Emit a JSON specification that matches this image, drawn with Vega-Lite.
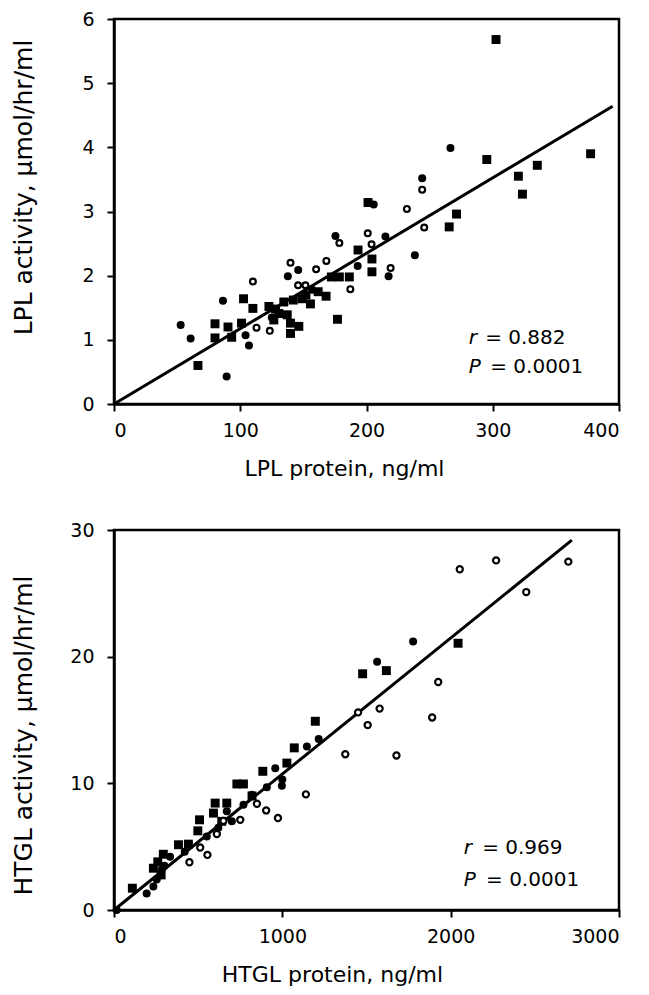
{
  "$schema": "https://vega.github.io/schema/vega-lite/v6.json",
  "padding": {"left": 10, "top": 8, "right": 10, "bottom": 0},
  "spacing": 38,
  "background": "white",
  "config": {
    "view": {"stroke": "black", "strokeWidth": 2.5},
    "axis": {
      "grid": false,
      "domainColor": "black",
      "domainWidth": 2.5,
      "tickColor": "black",
      "tickWidth": 2,
      "tickSize": 7,
      "labelFont": "DejaVu Sans",
      "labelFontSize": 19,
      "labelColor": "black",
      "titleFont": "DejaVu Sans",
      "titleFontWeight": "normal",
      "titleColor": "black"
    },
    "axisX": {"labelPadding": 10, "titleFontSize": 22, "titlePadding": 18},
    "axisY": {"labelPadding": 13, "titleFontSize": 25},
    "text": {"font": "DejaVu Sans", "fontSize": 20, "align": "left", "baseline": "middle", "color": "black"}
  },
  "datasets": {
    "lpl": [
      {"protein": 302.6, "activity": 5.68, "group": "s"},
      {"protein": 377.5, "activity": 3.90, "group": "s"},
      {"protein": 295.3, "activity": 3.81, "group": "s"},
      {"protein": 335.3, "activity": 3.72, "group": "s"},
      {"protein": 320.3, "activity": 3.55, "group": "s"},
      {"protein": 323.5, "activity": 3.27, "group": "s"},
      {"protein": 271.3, "activity": 2.96, "group": "s"},
      {"protein": 265.5, "activity": 2.76, "group": "s"},
      {"protein": 201.2, "activity": 3.14, "group": "s"},
      {"protein": 193.3, "activity": 2.40, "group": "s"},
      {"protein": 204.3, "activity": 2.26, "group": "s"},
      {"protein": 204.3, "activity": 2.06, "group": "s"},
      {"protein": 177.0, "activity": 1.32, "group": "s"},
      {"protein": 186.4, "activity": 1.98, "group": "s"},
      {"protein": 178.5, "activity": 1.98, "group": "s"},
      {"protein": 172.2, "activity": 1.98, "group": "s"},
      {"protein": 168.0, "activity": 1.68, "group": "s"},
      {"protein": 161.7, "activity": 1.75, "group": "s"},
      {"protein": 155.6, "activity": 1.56, "group": "s"},
      {"protein": 149.0, "activity": 1.64, "group": "s"},
      {"protein": 146.4, "activity": 1.21, "group": "s"},
      {"protein": 139.8, "activity": 1.10, "group": "s"},
      {"protein": 139.8, "activity": 1.26, "group": "s"},
      {"protein": 134.5, "activity": 1.59, "group": "s"},
      {"protein": 130.6, "activity": 1.41, "group": "s"},
      {"protein": 126.6, "activity": 1.31, "group": "s"},
      {"protein": 122.7, "activity": 1.52, "group": "s"},
      {"protein": 137.2, "activity": 1.39, "group": "s"},
      {"protein": 142.0, "activity": 1.62, "group": "s"},
      {"protein": 128.0, "activity": 1.48, "group": "s"},
      {"protein": 152.0, "activity": 1.70, "group": "s"},
      {"protein": 110.0, "activity": 1.49, "group": "s"},
      {"protein": 102.6, "activity": 1.64, "group": "s"},
      {"protein": 101.0, "activity": 1.26, "group": "s"},
      {"protein": 93.2, "activity": 1.04, "group": "s"},
      {"protein": 90.3, "activity": 1.20, "group": "s"},
      {"protein": 80.0, "activity": 1.25, "group": "s"},
      {"protein": 80.0, "activity": 1.03, "group": "s"},
      {"protein": 66.5, "activity": 0.60, "group": "s"},
      {"protein": 266.5, "activity": 3.99, "group": "f"},
      {"protein": 244.1, "activity": 3.52, "group": "f"},
      {"protein": 205.7, "activity": 3.11, "group": "f"},
      {"protein": 215.0, "activity": 2.61, "group": "f"},
      {"protein": 175.4, "activity": 2.62, "group": "f"},
      {"protein": 193.0, "activity": 2.15, "group": "f"},
      {"protein": 217.5, "activity": 1.99, "group": "f"},
      {"protein": 238.3, "activity": 2.32, "group": "f"},
      {"protein": 145.9, "activity": 2.09, "group": "f"},
      {"protein": 137.7, "activity": 1.99, "group": "f"},
      {"protein": 86.3, "activity": 1.61, "group": "f"},
      {"protein": 52.8, "activity": 1.23, "group": "f"},
      {"protein": 60.7, "activity": 1.02, "group": "f"},
      {"protein": 89.2, "activity": 0.43, "group": "f"},
      {"protein": 106.9, "activity": 0.91, "group": "f"},
      {"protein": 104.2, "activity": 1.07, "group": "f"},
      {"protein": 157.0, "activity": 1.78, "group": "f"},
      {"protein": 125.0, "activity": 1.35, "group": "f"},
      {"protein": 244.1, "activity": 3.34, "group": "o"},
      {"protein": 232.0, "activity": 3.04, "group": "o"},
      {"protein": 245.7, "activity": 2.75, "group": "o"},
      {"protein": 201.0, "activity": 2.66, "group": "o"},
      {"protein": 204.0, "activity": 2.49, "group": "o"},
      {"protein": 178.5, "activity": 2.51, "group": "o"},
      {"protein": 168.2, "activity": 2.23, "group": "o"},
      {"protein": 160.1, "activity": 2.10, "group": "o"},
      {"protein": 139.8, "activity": 2.20, "group": "o"},
      {"protein": 219.1, "activity": 2.12, "group": "o"},
      {"protein": 187.2, "activity": 1.79, "group": "o"},
      {"protein": 110.0, "activity": 1.91, "group": "o"},
      {"protein": 145.8, "activity": 1.85, "group": "o"},
      {"protein": 151.6, "activity": 1.85, "group": "o"},
      {"protein": 112.9, "activity": 1.19, "group": "o"},
      {"protein": 123.4, "activity": 1.14, "group": "o"}
    ],
    "lplfit": [
      {"protein": 0, "activity": 0},
      {"protein": 395, "activity": 4.64}
    ],
    "htgl": [
      {"protein": 2044, "activity": 21.06, "group": "s"},
      {"protein": 1618, "activity": 18.9, "group": "s"},
      {"protein": 1477, "activity": 18.65, "group": "s"},
      {"protein": 1196, "activity": 14.9, "group": "s"},
      {"protein": 1071, "activity": 12.8, "group": "s"},
      {"protein": 1027, "activity": 11.6, "group": "s"},
      {"protein": 884, "activity": 10.95, "group": "s"},
      {"protein": 730, "activity": 9.95, "group": "s"},
      {"protein": 769, "activity": 9.95, "group": "s"},
      {"protein": 601, "activity": 8.44, "group": "s"},
      {"protein": 670, "activity": 8.44, "group": "s"},
      {"protein": 508, "activity": 7.12, "group": "s"},
      {"protein": 498, "activity": 6.25, "group": "s"},
      {"protein": 591, "activity": 7.65, "group": "s"},
      {"protein": 383, "activity": 5.15, "group": "s"},
      {"protein": 442, "activity": 5.2, "group": "s"},
      {"protein": 293, "activity": 4.4, "group": "s"},
      {"protein": 234, "activity": 3.3, "group": "s"},
      {"protein": 280, "activity": 2.77, "group": "s"},
      {"protein": 109, "activity": 1.72, "group": "s"},
      {"protein": 820, "activity": 9.0, "group": "s"},
      {"protein": 640, "activity": 7.0, "group": "s"},
      {"protein": 260, "activity": 3.8, "group": "s"},
      {"protein": 1777, "activity": 21.2, "group": "f"},
      {"protein": 1563, "activity": 19.6, "group": "f"},
      {"protein": 1216, "activity": 13.5, "group": "f"},
      {"protein": 1146, "activity": 12.9, "group": "f"},
      {"protein": 958, "activity": 11.2, "group": "f"},
      {"protein": 997, "activity": 9.8, "group": "f"},
      {"protein": 908, "activity": 9.7, "group": "f"},
      {"protein": 819, "activity": 9.1, "group": "f"},
      {"protein": 700, "activity": 7.0, "group": "f"},
      {"protein": 670, "activity": 7.8, "group": "f"},
      {"protein": 551, "activity": 5.8, "group": "f"},
      {"protein": 333, "activity": 4.2, "group": "f"},
      {"protein": 284, "activity": 3.2, "group": "f"},
      {"protein": 254, "activity": 2.4, "group": "f"},
      {"protein": 194, "activity": 1.3, "group": "f"},
      {"protein": 16, "activity": 0, "group": "f"},
      {"protein": 234, "activity": 1.85, "group": "f"},
      {"protein": 769, "activity": 8.3, "group": "f"},
      {"protein": 620, "activity": 6.5, "group": "f"},
      {"protein": 420, "activity": 4.6, "group": "f"},
      {"protein": 300, "activity": 3.5, "group": "f"},
      {"protein": 1000, "activity": 10.3, "group": "f"},
      {"protein": 2054, "activity": 26.9, "group": "o"},
      {"protein": 2270, "activity": 27.6, "group": "o"},
      {"protein": 2699, "activity": 27.5, "group": "o"},
      {"protein": 2449, "activity": 25.1, "group": "o"},
      {"protein": 1926, "activity": 18.0, "group": "o"},
      {"protein": 1890, "activity": 15.2, "group": "o"},
      {"protein": 1578, "activity": 15.9, "group": "o"},
      {"protein": 1450, "activity": 15.6, "group": "o"},
      {"protein": 1507, "activity": 14.6, "group": "o"},
      {"protein": 1678, "activity": 12.2, "group": "o"},
      {"protein": 1374, "activity": 12.3, "group": "o"},
      {"protein": 1140, "activity": 9.13, "group": "o"},
      {"protein": 974, "activity": 7.26, "group": "o"},
      {"protein": 904, "activity": 7.86, "group": "o"},
      {"protein": 849, "activity": 8.39, "group": "o"},
      {"protein": 750, "activity": 7.12, "group": "o"},
      {"protein": 555, "activity": 4.35, "group": "o"},
      {"protein": 448, "activity": 3.77, "group": "o"},
      {"protein": 512, "activity": 4.93, "group": "o"},
      {"protein": 611, "activity": 6.0, "group": "o"},
      {"protein": 650, "activity": 7.04, "group": "o"}
    ],
    "htglfit": [
      {"protein": 0, "activity": 0},
      {"protein": 2720, "activity": 29.2}
    ],
    "stats": [
      {"panel": "LPL", "r": "= 0.882", "p": "= 0.0001"},
      {"panel": "HTGL", "r": "= 0.969", "p": "= 0.0001"}
    ]
  },
  "vconcat": [
    {
      "width": 505,
      "height": 385,
      "layer": [
        {"data": {"name": "lplfit"}, "mark": {"type": "line", "color": "black", "strokeWidth": 3},
         "encoding": {
           "x": {"field": "protein", "type": "quantitative", "scale": {"domain": [0, 400], "nice": false},
                 "axis": {"values": [0, 100, 200, 300, 400], "format": "d", "title": "LPL protein, ng/ml", "titleX": 230}},
           "y": {"field": "activity", "type": "quantitative", "scale": {"domain": [0, 6], "nice": false},
                 "axis": {"values": [0, 1, 2, 3, 4, 5, 6], "format": "d", "title": "LPL activity, μmol/hr/ml", "titlePadding": 45, "titleY": 168}}
         }},
        {"data": {"name": "lpl"}, "transform": [{"filter": "datum.group === 's'"}],
         "mark": {"type": "point", "shape": "square", "filled": true, "color": "black", "opacity": 1, "size": 80},
         "encoding": {"x": {"field": "protein", "type": "quantitative"}, "y": {"field": "activity", "type": "quantitative"}}},
        {"data": {"name": "lpl"}, "transform": [{"filter": "datum.group === 'f'"}],
         "mark": {"type": "point", "shape": "circle", "filled": true, "color": "black", "opacity": 1, "size": 64},
         "encoding": {"x": {"field": "protein", "type": "quantitative"}, "y": {"field": "activity", "type": "quantitative"}}},
        {"data": {"name": "lpl"}, "transform": [{"filter": "datum.group === 'o'"}],
         "mark": {"type": "point", "shape": "circle", "filled": true, "fill": "white", "stroke": "black", "strokeWidth": 2.2, "opacity": 1, "size": 34},
         "encoding": {"x": {"field": "protein", "type": "quantitative"}, "y": {"field": "activity", "type": "quantitative"}}},
        {"data": {"name": "stats"}, "transform": [{"filter": "datum.panel === 'LPL'"}],
         "mark": {"type": "text", "fontStyle": "italic"},
         "encoding": {"x": {"datum": 281}, "y": {"datum": 1.03}, "text": {"value": "r"}}},
        {"data": {"name": "stats"}, "transform": [{"filter": "datum.panel === 'LPL'"}],
         "mark": {"type": "text"},
         "encoding": {"x": {"datum": 294}, "y": {"datum": 1.03}, "text": {"field": "r"}}},
        {"data": {"name": "stats"}, "transform": [{"filter": "datum.panel === 'LPL'"}],
         "mark": {"type": "text", "fontStyle": "italic"},
         "encoding": {"x": {"datum": 281}, "y": {"datum": 0.58}, "text": {"value": "P"}}},
        {"data": {"name": "stats"}, "transform": [{"filter": "datum.panel === 'LPL'"}],
         "mark": {"type": "text"},
         "encoding": {"x": {"datum": 298}, "y": {"datum": 0.58}, "text": {"field": "p"}}}
      ]
    },
    {
      "width": 505,
      "height": 380,
      "layer": [
        {"data": {"name": "htglfit"}, "mark": {"type": "line", "color": "black", "strokeWidth": 3},
         "encoding": {
           "x": {"field": "protein", "type": "quantitative", "scale": {"domain": [0, 3000], "nice": false},
                 "axis": {"values": [0, 1000, 2000, 3000], "format": "d", "title": "HTGL protein, ng/ml", "titleX": 218}},
           "y": {"field": "activity", "type": "quantitative", "scale": {"domain": [0, 30], "nice": false},
                 "axis": {"values": [0, 10, 20, 30], "format": "d", "title": "HTGL activity, μmol/hr/ml", "titlePadding": 33, "titleY": 205}}
         }},
        {"data": {"name": "htgl"}, "transform": [{"filter": "datum.group === 's'"}],
         "mark": {"type": "point", "shape": "square", "filled": true, "color": "black", "opacity": 1, "size": 80},
         "encoding": {"x": {"field": "protein", "type": "quantitative"}, "y": {"field": "activity", "type": "quantitative"}}},
        {"data": {"name": "htgl"}, "transform": [{"filter": "datum.group === 'f'"}],
         "mark": {"type": "point", "shape": "circle", "filled": true, "color": "black", "opacity": 1, "size": 64},
         "encoding": {"x": {"field": "protein", "type": "quantitative"}, "y": {"field": "activity", "type": "quantitative"}}},
        {"data": {"name": "htgl"}, "transform": [{"filter": "datum.group === 'o'"}],
         "mark": {"type": "point", "shape": "circle", "filled": true, "fill": "white", "stroke": "black", "strokeWidth": 2.2, "opacity": 1, "size": 38},
         "encoding": {"x": {"field": "protein", "type": "quantitative"}, "y": {"field": "activity", "type": "quantitative"}}},
        {"data": {"name": "stats"}, "transform": [{"filter": "datum.panel === 'HTGL'"}],
         "mark": {"type": "text", "fontStyle": "italic"},
         "encoding": {"x": {"datum": 2078}, "y": {"datum": 4.9}, "text": {"value": "r"}}},
        {"data": {"name": "stats"}, "transform": [{"filter": "datum.panel === 'HTGL'"}],
         "mark": {"type": "text"},
         "encoding": {"x": {"datum": 2187}, "y": {"datum": 4.9}, "text": {"field": "r"}}},
        {"data": {"name": "stats"}, "transform": [{"filter": "datum.panel === 'HTGL'"}],
         "mark": {"type": "text", "fontStyle": "italic"},
         "encoding": {"x": {"datum": 2078}, "y": {"datum": 2.37}, "text": {"value": "P"}}},
        {"data": {"name": "stats"}, "transform": [{"filter": "datum.panel === 'HTGL'"}],
         "mark": {"type": "text"},
         "encoding": {"x": {"datum": 2210}, "y": {"datum": 2.37}, "text": {"field": "p"}}}
      ]
    }
  ]
}
